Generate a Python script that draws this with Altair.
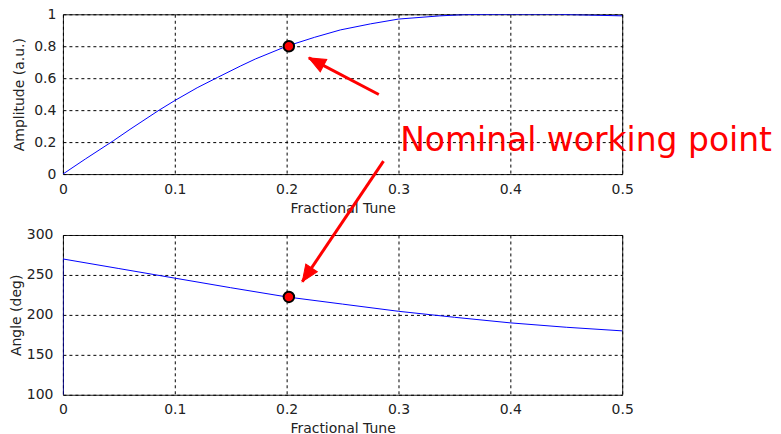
import altair as alt
import pandas as pd

# ---- data ----
tune_amp = [0, 0.02, 0.045, 0.06, 0.086, 0.1, 0.12, 0.138, 0.159, 0.172, 0.2,
            0.225, 0.248, 0.275, 0.3, 0.337, 0.36, 0.4, 0.44, 0.47, 0.5]
amp = [0, 0.094, 0.208, 0.28, 0.40, 0.46, 0.54, 0.604, 0.677, 0.72, 0.80,
       0.856, 0.902, 0.94, 0.97, 0.99, 0.998, 1.0, 1.0, 0.995, 0.99]

tune_ang = [0, 0, 0.05, 0.1, 0.15, 0.2, 0.25, 0.3, 0.35, 0.4, 0.45, 0.5]
angle = [90, 270, 258, 246, 234, 222.5, 213.5, 204.5, 197, 190, 184.5, 180]

work_tune = [0.202]
work_amp = [0.8]
work_angle = [222.5]

label_text = ["Nominal working point"]
label_tune = [0.3015]
label_amp = [0.144]

# arrows: tail (tune, value) -> tip (tune, value)
arrow_top = {"t0": [0.2824], "v0": [0.498], "t1": [0.2199], "v1": [0.727]}
arrow_bot = {"t0": [0.2866], "v0": [392.5], "t1": [0.214], "v1": [241.6]}

x_ticks = [0, 0.1, 0.2, 0.3, 0.4, 0.5]
amp_ticks = [0, 0.2, 0.4, 0.6, 0.8, 1]
ang_ticks = [100, 150, 200, 250, 300]

RED = "#ff0000"
BLUE = "#0000ff"
FONT = "DejaVu Sans"
ARROW_HEAD = "M0,0 L-0.42,1 L0.42,1 Z"

amp_df = pd.DataFrame({"tune": tune_amp, "amp": amp})
ang_df = pd.DataFrame({"tune": tune_ang, "angle": angle, "idx": list(range(len(angle)))})

X_AXIS = alt.Axis(values=x_ticks, format="~r", title="Fractional Tune",
                  grid=True, gridDash=[3, 3], gridColor="#000", gridOpacity=1,
                  ticks=False, domain=False, labelPadding=8, titlePadding=5,
                  labelFlush=False, labelOverlap=False)
AMP_AXIS = alt.Axis(values=amp_ticks, format="~r", title="Amplitude (a.u.)",
                    grid=True, gridDash=[3, 3], gridColor="#000", gridOpacity=1,
                    ticks=False, domain=False, labelPadding=7, titlePadding=7,
                    labelFlush=False, labelOverlap=False)
ANG_AXIS = alt.Axis(values=ang_ticks, format="~r", title="Angle (deg)",
                    grid=True, gridDash=[3, 3], gridColor="#000", gridOpacity=1,
                    ticks=False, domain=False, labelPadding=10, titlePadding=3,
                    labelFlush=False, labelOverlap=False)

xs = alt.Scale(domain=[0, 0.5], nice=False, zero=False)
ys_amp = alt.Scale(domain=[0, 1], nice=False)
ys_ang = alt.Scale(domain=[100, 300], nice=False, zero=False)


def X(field):
    return alt.X(field, scale=xs, axis=X_AXIS)


def YA(field):
    return alt.Y(field, scale=ys_amp, axis=AMP_AXIS)


def YG(field):
    return alt.Y(field, scale=ys_ang, axis=ANG_AXIS)


# ---- top panel ----
top_line = alt.Chart(amp_df).mark_line(color=BLUE, strokeWidth=1, clip=True).encode(
    x=X("tune:Q"), y=YA("amp:Q"))
top_pt = alt.Chart(pd.DataFrame({"tune": work_tune, "amp": work_amp})).mark_point(
    shape="circle", filled=True, fill=RED, stroke="#000", strokeWidth=2, size=110, opacity=1
).encode(x=X("tune:Q"), y=YA("amp:Q"))

top_arrow_df = pd.DataFrame(arrow_top)
top_arrow_line = alt.Chart(top_arrow_df).mark_rule(color=RED, strokeWidth=3, clip=False).encode(
    x=X("t0:Q"), y=YA("v0:Q"), x2="t1:Q", y2="v1:Q")
top_arrow_head = alt.Chart(top_arrow_df).mark_point(
    shape=ARROW_HEAD, filled=True, fill=RED, stroke=RED, strokeWidth=1, size=1100,
    angle=298, opacity=1, clip=False
).encode(x=X("t1:Q"), y=YA("v1:Q"))

label = alt.Chart(pd.DataFrame({"tune": label_tune, "amp": label_amp, "txt": label_text})).mark_text(
    font=FONT, fontSize=33, color=RED, align="left", baseline="alphabetic", clip=False
).encode(x=X("tune:Q"), y=YA("amp:Q"), text="txt:N")

top = alt.layer(top_line, top_arrow_line, top_arrow_head, top_pt, label).properties(
    width=560, height=160)

# ---- bottom panel ----
bot_line = alt.Chart(ang_df).mark_line(color=BLUE, strokeWidth=1, clip=True).encode(
    x=X("tune:Q"), y=YG("angle:Q"), order="idx:Q")
bot_pt = alt.Chart(pd.DataFrame({"tune": work_tune, "angle": work_angle})).mark_point(
    shape="circle", filled=True, fill=RED, stroke="#000", strokeWidth=2, size=110, opacity=1
).encode(x=X("tune:Q"), y=YG("angle:Q"))

bot_arrow_df = pd.DataFrame(arrow_bot)
bot_arrow_line = alt.Chart(bot_arrow_df).mark_rule(color=RED, strokeWidth=3, clip=False).encode(
    x=X("t0:Q"), y=YG("v0:Q"), x2="t1:Q", y2="v1:Q")
bot_arrow_head = alt.Chart(bot_arrow_df).mark_point(
    shape=ARROW_HEAD, filled=True, fill=RED, stroke=RED, strokeWidth=1, size=1100,
    angle=214, opacity=1, clip=False
).encode(x=X("t1:Q"), y=YG("v1:Q"))

bottom = alt.layer(bot_line, bot_pt, bot_arrow_line, bot_arrow_head).properties(
    width=560, height=160)

chart = alt.vconcat(top, bottom, spacing=61, bounds="flush").properties(
    padding={"left": 0, "top": -2, "right": 0, "bottom": 3},
    background="white",
).configure_view(
    stroke="#222", strokeWidth=1
).configure_axis(
    labelFont=FONT, labelFontSize=14, labelColor="#222",
    titleFont=FONT, titleFontSize=14, titleColor="#222", titleFontWeight="normal",
)

chart.save("out.html", embed_options={"renderer": "svg", "actions": False})
